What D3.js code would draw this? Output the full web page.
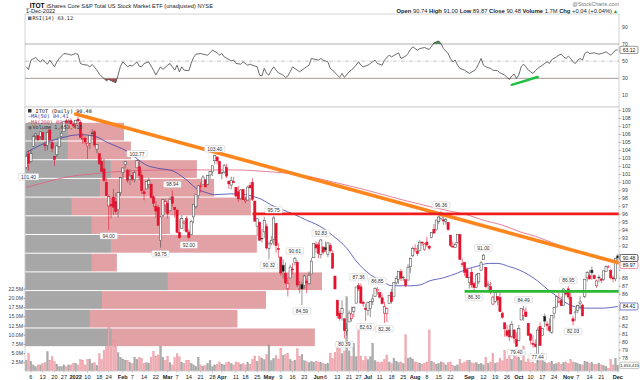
<!DOCTYPE html>
<html>
<head>
<meta charset="utf-8">
<script src="https://cdn.jsdelivr.net/npm/d3@7.9.0/dist/d3.min.js"></script>
<style>
  body { margin: 0; background: #fff; }
  svg { display: block; }
  text { font-family: "Liberation Sans", Arial, sans-serif; }
  .mono { font-family: "DejaVu Sans Mono", monospace; }
</style>
</head>
<body>
<div id="chart"></div>
<script>
// ---- data ----
const firstDay = "2021-12-02", lastDay = "2022-12-01";
const holidays = ["2021-12-24", "2022-01-17", "2022-02-21", "2022-04-15", "2022-05-30",
                  "2022-06-20", "2022-07-04", "2022-09-05", "2022-11-24"];

// daily open, high, low, close
const ohlc = [
  // Dec 2021
  [101.8,103.6,101.6,103.21],[103.5,103.9,101.40,102.33],[102.56,104.0,102.4,103.55],[104.45,105.85,104.45,105.67],
  [105.76,106.1,105.31,106.01],[105.78,105.87,105.2,105.26],[105.69,106.28,105.31,106.26],[106.21,106.21,105.24,105.29],
  [104.68,105.08,103.87,104.52],[104.56,106.26,103.98,106.19],[106.5,106.68,104.88,105.26],[104.9,105.22,103.73,104.18],
  [103.2,103.2,102.0,102.8],[103.4,104.6,103.1,104.5],[104.4,105.5,104.3,105.5],[105.7,106.4,105.6,106.1],
  [106.3,107.6,106.3,107.6],[107.65,107.9,107.3,107.45],[107.5,107.87,107.27,107.6],[107.65,107.94,107.2,107.27],
  [107.2,107.47,106.97,107.0],
  // Jan
  [107.27,107.69,106.82,107.69],[107.85,108.19,107.18,107.63],[107.47,107.72,105.52,105.54],[105.36,106.1,104.77,105.43],
  [105.47,105.67,104.68,105.0],[104.5,104.9,102.87,104.84],[104.84,105.83,104.12,105.81],[106.14,106.62,105.69,106.1],
  [106.28,106.5,104.41,104.62],[104.1,104.73,103.58,104.68],[103.53,103.53,102.09,102.3],[102.54,103.08,101.31,101.31],
  [101.63,102.88,100.0,100.2],[99.93,100.46,98.25,98.3],[96.99,98.35,94.00,98.17],[97.2,98.2,95.45,96.99],
  [98.12,99.12,95.83,96.83],[97.52,98.57,95.92,96.32],[96.52,98.66,95.54,98.66],[98.64,100.53,98.26,100.53],
  // Feb
  [101.14,101.83,100.35,101.74],[102.19,102.6,101.7,102.55],[101.49,101.65,99.9,100.22],[100.31,101.61,99.61,100.73],
  [100.82,101.18,100.06,100.35],[100.26,101.41,99.93,101.2],[101.76,102.77,101.76,102.66],[101.9,102.7,100.2,100.8],
  [100.84,101.31,98.52,98.9],[98.76,99.08,97.69,98.52],[99.12,100.1,99.12,100.08],[99.7,100.49,99.14,100.17],
  [99.73,99.73,97.87,98.05],[98.14,98.34,96.84,97.33],[96.95,97.64,95.52,96.35],[96.79,97.13,94.49,94.58],
  [92.66,95.78,91.76,95.62],[95.85,97.79,95.58,97.79],[97.12,97.87,96.22,97.54],
  // Mar
  [97.29,97.5,95.42,96.02],[96.38,98.14,96.38,97.83],[98.14,98.94,96.89,97.32],[96.83,96.85,95.53,96.54],
  [96.49,96.49,93.64,93.68],[93.7,95.35,92.9,93.01],[94.2,95.87,94.2,95.4],[94.84,95.18,93.86,95.0],
  [95.42,95.71,93.7,93.75],[93.73,94.06,92.85,93.06],[93.39,95.27,93.37,95.04],[95.62,97.18,94.8,97.18],
  [96.89,98.39,96.67,98.39],[98.28,99.57,97.9,99.52],[99.5,99.93,98.66,99.48],[99.66,100.84,99.66,100.62],
  [100.22,100.37,99.35,99.37],[99.68,100.82,99.57,100.8],[100.86,101.38,100.37,101.31],[101.26,102.02,100.73,102.02],
  [102.65,103.40,102.18,103.29],[103.12,103.18,102.18,102.62],[102.58,102.65,101.02,101.02],
  // Apr
  [101.06,101.26,100.33,101.19],[101.24,102.24,101.04,102.02],[101.79,102.26,100.48,100.73],[100.06,100.26,99.12,99.75],
  [99.61,100.66,99.06,100.17],[100.04,100.64,99.88,99.9],[99.32,99.37,98.12,98.23],[98.77,99.52,97.52,97.88],
  [97.9,99.12,97.79,98.99],[99.03,99.12,97.77,97.77],[97.61,98.19,97.32,97.74],[97.72,99.52,97.72,99.35],
  [99.57,99.93,99.17,99.26],[99.93,100.46,97.61,97.81],[97.61,97.61,95.0,95.09],[94.46,95.44,93.24,95.39],
  [94.97,94.97,92.69,92.69],[92.95,94.13,92.42,92.88],[93.75,95.64,92.97,95.19],[94.42,94.79,91.55,91.73],
  // May
  [91.69,92.55,90.32,92.24],[92.33,93.24,92.06,92.69],[92.82,95.75,92.09,95.48],[94.82,94.82,91.15,92.06],
  [91.66,92.31,90.51,91.53],[90.6,90.6,88.25,88.6],[89.58,90.31,87.87,88.82],[88.58,89.91,87.2,87.36],
  [86.65,88.0,85.65,87.25],[87.98,89.64,87.98,89.33],[89.09,89.84,88.42,88.98],[89.95,90.61,89.53,90.45],
  [89.93,90.2,86.82,87.09],[86.58,87.6,86.07,86.6],[87.18,87.53,84.59,86.6],[87.02,88.4,86.65,88.22],
  [87.51,87.82,86.03,87.49],[87.25,88.8,87.18,88.33],[88.47,90.47,88.47,90.09],[90.51,92.31,90.51,92.31],
  [92.15,92.53,91.11,91.73],
  // Jun
  [92.13,92.49,90.44,91.04],[90.93,92.83,90.44,92.73],[91.84,91.97,90.95,91.22],[91.77,92.55,91.24,91.49],
  [90.95,92.44,90.58,92.37],[92.06,92.35,91.18,91.38],[91.06,91.44,89.18,89.2],[88.22,88.22,86.58,86.6],
  [85.2,85.2,82.92,83.25],[83.56,83.87,82.63,82.92],[83.56,85.18,82.65,84.14],[82.87,82.87,80.39,81.41],
  [81.36,82.32,80.74,81.59],[82.47,83.92,82.47,83.58],[82.87,84.38,82.52,83.47],[83.78,84.43,83.09,84.27],
  [84.83,86.87,84.83,86.85],[87.02,87.36,86.34,86.6],[86.87,87.3,84.8,84.83],[84.92,85.16,84.36,84.78],
  [84.2,84.76,82.63,84.03],
  // Jul
  [83.94,85.0,83.29,84.92],[84.18,85.07,83.09,85.05],[85.05,85.91,84.58,85.36],[85.65,86.8,85.65,86.65],
  [86.34,86.85,85.89,86.56],[86.14,86.14,85.4,85.58],[85.49,86.0,84.67,84.78],[83.58,85.0,82.36,84.38],
  [83.54,84.27,82.45,84.14],[84.76,85.76,84.76,85.76],[86.2,86.62,84.76,85.05],[85.69,87.45,85.69,87.4],
  [87.36,88.25,87.14,87.91],[87.8,88.78,87.2,88.78],[88.78,89.09,87.58,87.96],[88.05,88.25,87.58,88.07],
  [87.76,87.76,86.82,87.05],[87.71,89.69,87.71,89.33],[89.38,90.53,88.62,90.42],[90.75,91.91,90.58,91.69],
  // Aug
  [91.49,92.2,91.16,91.65],[91.34,92.12,90.76,91.02],[91.4,92.72,91.38,92.45],[92.45,92.58,92.0,92.38],
  [91.56,92.36,91.38,92.23],[92.47,93.14,91.85,92.12],[91.96,92.07,91.49,91.71],[93.03,93.69,92.94,93.67],
  [94.07,94.72,93.47,93.61],[94.03,95.23,93.9,95.23],[95.01,95.7,94.7,95.61],[95.45,96.36,95.16,95.79],
  [95.25,95.74,94.63,95.12],[95.07,95.5,94.65,95.32],[94.94,94.94,93.85,94.07],[93.34,93.34,91.87,92.07],
  [91.96,92.54,91.76,91.85],[91.8,92.49,91.71,92.14],[92.43,93.45,92.29,93.43],[93.43,93.52,90.27,90.29],
  [89.76,90.38,89.38,89.69],[89.91,89.98,88.22,88.69],[89.0,89.33,87.98,88.0],
  // Sep
  [87.4,88.13,86.65,88.07],[88.69,89.22,86.74,87.11],[87.27,87.51,86.30,86.76],[86.78,88.51,86.71,88.36],
  [87.49,88.62,87.18,88.53],[88.89,90.08,88.89,89.88],[90.26,91.0,90.26,90.83],[89.3,89.3,86.65,86.9],
  [87.07,87.54,86.45,87.21],[86.9,87.49,85.95,86.21],[84.71,85.75,84.56,85.59],[85.06,86.19,84.84,86.19],
  [85.66,85.66,84.58,85.22],[85.55,86.34,83.74,83.76],[83.58,83.76,82.88,83.05],[82.37,82.37,80.62,81.62],
  [81.37,82.12,80.55,80.78],[81.46,82.15,80.07,80.6],[80.69,82.57,80.44,82.19],[81.48,81.48,79.78,80.44],
  [80.29,81.15,79.40,79.43],
  // Oct
  [80.14,82.1,80.01,81.65],[82.72,84.16,82.72,84.16],[83.32,84.49,82.63,83.98],[83.72,84.29,83.12,83.14],
  [82.3,82.36,80.72,80.81],[80.96,81.1,79.65,80.19],[79.81,80.83,79.23,79.68],[79.7,80.28,79.28,79.41],
  [78.14,81.81,77.44,81.45],[81.92,82.41,79.5,79.54],[80.76,81.63,80.76,81.63],[83.16,83.52,81.83,82.58],
  [82.21,82.56,81.39,82.03],[81.9,82.94,81.19,81.39],[81.19,83.32,80.96,83.29],[83.52,84.36,82.87,84.29],
  [84.34,85.74,84.34,85.67],[84.92,86.27,84.92,85.05],[85.18,85.67,84.43,84.52],[84.56,86.69,84.56,86.6],
  [86.18,86.42,85.76,85.96],
  // Nov
  [86.62,86.95,85.31,85.6],[85.54,86.47,83.45,83.47],[82.87,83.25,82.03,82.58],[83.63,84.27,82.61,83.72],
  [83.92,84.65,83.56,84.52],[84.76,85.69,84.05,84.98],[84.58,84.76,83.23,83.23],[85.67,87.89,85.45,87.82],
  [88.0,88.84,87.56,88.64],[88.29,89.0,87.82,87.85],[88.96,89.42,87.76,88.62],[88.27,88.42,87.8,87.89],
  [87.0,87.78,86.74,87.62],[88.07,88.36,87.4,88.02],[87.85,87.96,87.33,87.69],[87.76,88.89,87.62,88.87],
  [88.8,89.55,88.76,89.4],[89.31,89.58,89.24,89.38],[88.91,89.09,87.8,88.0],[88.0,88.29,87.42,87.87],
  [87.87,90.5,87.56,90.44],
  // Dec 1
  [90.74,91.00,89.87,90.48]
];

// daily volume, millions
const volume = [
  3.1,4.9,2.7,1.8,1.3,1.8,1.8,2.2,2.4,5.4,3.1,4.0,2.7,2.0,1.3,1.3,1.8,1.3,1.8,1.8,2.2,
  2.2,1.8,3.3,3.0,1.8,3.3,3.3,2.2,2.4,1.6,4.8,3.3,5.8,6.7,12.6,6.7,8.4,6.7,5.1,3.9,
  3.4,3.1,3.1,2.4,2.2,3.9,3.3,3.8,3.6,2.2,2.4,2.2,3.9,5.5,4.2,4.5,6.9,3.9,3.1,
  4.1,2.4,1.8,3.8,4.8,4.0,2.4,2.2,3.1,2.9,2.2,1.8,1.3,3.9,1.8,1.5,1.6,2.2,3.1,1.3,1.8,2.0,2.6,
  2.0,1.8,2.4,2.6,2.2,1.8,2.6,2.4,2.0,2.2,1.8,2.4,2.0,3.3,4.2,2.8,4.0,3.6,3.2,4.6,
  7.2,3.0,3.6,4.3,3.4,6.3,4.4,4.6,4.9,3.3,2.8,3.1,6.2,4.1,4.6,2.9,2.7,2.4,2.7,2.5,2.8,
  2.6,2.4,2.2,2.0,2.2,5.0,3.6,5.2,8.2,6.3,4.8,5.6,20.3,5.6,4.1,7.7,4.0,11.5,4.1,3.0,4.0,
  3.2,4.0,7.7,3.0,2.6,2.4,2.6,3.3,4.5,2.6,2.2,3.6,2.8,2.4,2.6,2.2,10.0,3.6,3.8,3.4,
  2.6,2.4,2.2,2.0,2.3,2.6,11.3,2.8,2.4,2.0,2.2,2.6,2.4,1.8,2.4,2.6,1.6,1.5,1.8,3.3,2.2,2.6,3.0,
  3.1,2.4,2.2,2.4,2.0,2.2,1.8,3.8,2.2,2.6,4.9,2.2,2.4,3.6,2.9,5.8,3.4,4.6,3.3,5.1,4.0,
  3.8,3.0,6.9,2.6,3.4,2.4,2.6,2.2,4.6,4.0,4.9,2.6,2.2,2.4,2.8,2.0,2.2,2.4,2.0,2.4,2.6,
  2.2,3.3,2.6,2.4,2.2,2.0,1.8,2.8,2.6,2.2,2.4,1.9,2.0,2.2,1.8,1.6,1.4,0.9,3.3,1.8,3.6,
  1.653415
];

// moving averages read as [trading day index, value]
const ma50 = [[0,103.7],[2,104.0],[6,104.6],[10,105.1],[15,105.5],[19,105.8],[23,105.9],[28,105.8],[31,105.5],
  [34,105.0],[38,104.5],[43,103.8],[47,102.9],[51,102.1],[56,101.7],[62,101.4],[66,100.7],[69,100.0],[72,99.2],
  [76,98.7],[80,98.4],[86,98.5],[90,98.5],[96,98.2],[100,97.8],[104,97.1],[108,96.6],[114,95.9],[119,95.2],
  [123,94.7],[126,94.2],[130,93.3],[136,91.7],[140,90.1],[146,88.4],[151,87.6],[155,87.0],[159,87.0],[163,87.0],
  [167,87.1],[171,87.6],[177,88.0],[183,88.6],[187,89.1],[192,89.5],[196,89.8],[200,89.8],[205,89.4],[209,89.0],
  [213,88.4],[217,87.6],[221,86.6],[226,85.5],[230,84.7],[234,84.3],[238,84.2],[244,84.2],[251,84.41]];
const ma200 = [[0,99.3],[10,100.1],[17,100.6],[28,101.0],[45,101.4],[62,101.5],[74,101.5],[88,101.5],[102,101.3],
  [116,100.9],[130,100.0],[144,99.0],[159,97.8],[170,97.0],[179,96.4],[187,95.9],[194,95.2],[202,94.6],[210,93.7],
  [216,93.2],[224,92.3],[230,91.7],[238,90.9],[244,90.3],[251,89.97]];

// RSI(14) read as [trading day index, value]
const rsi = [[0,43.4],[1,40.3],[2,51.2],[4,54.3],[5,51.2],[6,49.2],[7,51.9],[9,46.5],[10,51.2],[11,47.3],[12,43.4],
  [13,49.2],[14,53.1],[16,58.9],[18,58.1],[19,57.0],[21,58.9],[22,57.8],[23,47.3],[24,46.1],[26,45.3],[27,43.4],
  [28,46.1],[30,39.5],[31,34.9],[33,29.8],[34,27.1],[35,28.7],[37,26.0],[38,24.8],[39,34.0],[40,44.0],[41,49.2],
  [43,43.4],[44,45.3],[45,44.2],[47,49.2],[48,44.0],[49,43.4],[50,47.3],[52,49.2],[53,44.2],[54,39.5],[55,33.7],
  [56,38.8],[57,43.4],[58,40.3],[60,45.3],[61,47.3],[62,43.4],[63,39.5],[64,45.3],[65,37.6],[66,43.4],[67,39.5],
  [69,38.8],[70,47.3],[71,54.3],[72,58.1],[74,58.9],[75,58.1],[77,57.0],[78,59.7],[79,62.8],[81,59.7],[82,57.0],
  [83,58.9],[84,55.0],[86,51.9],[87,50.4],[88,51.2],[89,47.3],[91,46.5],[92,49.2],[94,45.3],[95,46.5],[96,45.3],
  [98,43.4],[99,33.7],[100,32.6],[101,41.5],[102,35.7],[103,33.7],[104,39.5],[105,43.4],[106,39.5],[107,36.4],
  [109,33.7],[110,31.0],[111,32.6],[112,37.6],[113,43.4],[115,39.5],[116,37.6],[117,39.5],[118,41.5],[120,45.3],
  [121,53.1],[123,51.9],[124,51.2],[125,53.1],[126,51.2],[128,49.2],[129,41.5],[130,39.5],[132,33.7],[133,31.0],
  [134,35.7],[135,31.0],[137,37.6],[138,39.5],[140,45.3],[141,49.2],[142,45.3],[143,43.4],[145,45.3],[146,47.3],
  [147,49.2],[148,51.2],[149,47.3],[151,45.3],[152,51.2],[154,57.0],[155,55.0],[157,58.1],[158,59.7],[159,53.1],
  [161,55.8],[162,58.9],[163,63.6],[164,66.7],[166,62.8],[167,64.7],[169,65.9],[170,64.7],[171,63.6],[172,67.4],
  [173,71.3],[174,72.5],[175,73.6],[176,70.5],[177,64.7],[179,58.9],[180,53.1],[181,49.2],[182,51.2],[183,45.3],
  [184,41.5],[186,39.5],[187,37.6],[188,35.7],[190,38.8],[191,41.5],[192,47.3],[193,53.1],[194,45.3],[195,43.4],
  [197,41.5],[198,39.5],[200,38.8],[201,36.4],[203,33.7],[204,31.0],[205,28.7],[206,32.6],[207,34.9],[208,29.8],
  [209,33.7],[210,43.4],[211,46.5],[212,43.4],[213,39.5],[214,37.6],[215,35.7],[216,38.8],[217,41.5],[218,43.4],
  [220,47.3],[221,49.2],[222,47.3],[223,51.9],[225,55.0],[226,57.0],[227,58.1],[228,55.0],[229,53.1],[230,55.8],
  [231,53.1],[232,49.2],[233,47.3],[234,51.2],[235,53.1],[236,51.2],[237,58.9],[238,60.9],[239,58.9],[241,59.7],
  [242,58.9],[243,58.1],[244,58.9],[245,59.7],[246,60.9],[247,58.9],[248,57.0],[249,59.7],[250,62.8],[251,63.12]];

// volume by price: zone edges (price) and up/down volume per zone (M)
const vbpEdges = [107.46, 105.12, 102.78, 100.44, 98.10, 95.76, 93.42, 91.08, 88.74, 86.40, 84.06, 81.72, 79.38];
const vbpUp   = [21.7, 21.7, 43.4, 37.9, 23.7, 33.8, 43.4, 33.8, 72.2, 38.9, 32.8, 43.9];
const vbpDown = [28.3, 31.8, 43.4, 57.6, 90.4, 39.4, 73.7, 12.6, 77.8, 82.8, 74.5, 102.5];

// hand-drawn lines
const trendLine = [["2022-01-03", 108.5], ["2022-12-01", 89.9]];
const resistance = ["2022-04-21", 96.0];
const support = ["2022-08-30", 86.3];
const rsiTrend = [["2022-09-28", 22.3], ["2022-10-13", 31.5]];

// price labels on swing highs/lows: [day index, text, side]
const swings = [[1,"101.40","low"],[35,"94.00","low"],[47,"102.77","high"],[57,"93.75","low"],[62,"98.94","high"],
  [69,"92.00","low"],[80,"103.40","high"],[103,"90.32","low"],[105,"95.75","high"],[114,"90.61","high"],
  [117,"84.59","low"],[125,"92.83","high"],[135,"80.39","low"],[141,"87.36","high"],[144,"82.63","low"],
  [149,"86.85","high"],[152,"82.36","low"],[176,"96.36","high"],[190,"86.30","low"],[194,"91.00","high"],
  [208,"79.40","low"],[211,"84.49","high"],[217,"77.44","low"],[230,"86.95","high"],[232,"82.03","low"]];

const xTicks = [["2021-12-06","6"],["2021-12-13","13"],["2021-12-20","20"],["2021-12-27","27"],["2022-01-03","2022"],
  ["2022-01-10","10"],["2022-01-18","18"],["2022-01-24","24"],["2022-02-01","Feb"],["2022-02-07","7"],["2022-02-14","14"],
  ["2022-02-22","22"],["2022-03-01","Mar"],["2022-03-07","7"],["2022-03-14","14"],["2022-03-21","21"],["2022-03-28","28"],
  ["2022-04-01","Apr"],["2022-04-11","11"],["2022-04-18","18"],["2022-04-25","25"],["2022-05-02","May"],["2022-05-09","9"],
  ["2022-05-16","16"],["2022-05-23","23"],["2022-06-01","Jun"],["2022-06-06","6"],["2022-06-13","13"],["2022-06-21","21"],
  ["2022-06-27","27"],["2022-07-01","Jul"],["2022-07-11","11"],["2022-07-18","18"],["2022-07-25","25"],["2022-08-01","Aug"],
  ["2022-08-08","8"],["2022-08-15","15"],["2022-08-22","22"],["2022-09-01","Sep"],["2022-09-12","12"],["2022-09-19","19"],
  ["2022-09-26","26"],["2022-10-03","Oct"],["2022-10-10","10"],["2022-10-17","17"],["2022-10-24","24"],["2022-11-01","Nov"],
  ["2022-11-07","7"],["2022-11-14","14"],["2022-11-21","21"],["2022-12-01","Dec"]];

const quote = [["Open ","90.74"],["High ","91.00"],["Low ","89.87"],["Close ","90.48"],["Volume ","1.7M"],["Chg ","+0.04 (+0.04%)"]];

// ---- layout ----
const plotL = 25, plotR = 619;
const rsiTop = 14, rsiBot = 107, mainTop = 107, mainBot = 371;
const red = "#e3122e";

// trading days
const days = [];
for (let d = new Date(firstDay + "T12:00:00Z"); d <= new Date(lastDay + "T12:00:00Z"); d.setUTCDate(d.getUTCDate() + 1)) {
  const s = d.toISOString().slice(0, 10);
  const wd = d.getUTCDay();
  if (wd > 0 && wd < 6 && !holidays.includes(s)) days.push(s);
}
const n = Math.min(days.length, ohlc.length);
const dayIdx = s => days.indexOf(s);

const x = d3.scaleLinear().domain([0, 251]).range([26.2, 617.8]);
const y = d3.scaleLinear().domain([78, 109]).range([357.7, 110]);
const v = d3.scaleLinear().domain([0, 25]).range([371.5, 279.5]);
const r = d3.scaleLinear().domain([0, 100]).range([104, 18.3]);
const vb = d3.scaleLinear().domain([0, 300]).range([plotL, plotR]);

const svg = d3.select("#chart").append("svg").attr("width", 640).attr("height", 380);
svg.append("rect").attr("width", 640).attr("height", 380).attr("fill", "#fff");

const defs = svg.append("defs");
defs.append("clipPath").attr("id", "mainClip").append("rect")
  .attr("x", plotL).attr("y", mainTop).attr("width", plotR - plotL).attr("height", mainBot - mainTop);
defs.append("clipPath").attr("id", "rsiHi").append("rect")
  .attr("x", plotL).attr("y", rsiTop).attr("width", plotR - plotL).attr("height", r(70) - rsiTop);
defs.append("clipPath").attr("id", "rsiLo").append("rect")
  .attr("x", plotL).attr("y", r(30)).attr("width", plotR - plotL).attr("height", rsiBot - r(30));

// ---- header ----
const sym = svg.append("text").attr("x", 26).attr("y", 7.6).attr("font-size", 6.6).attr("font-weight", "bold").text("_ITOT");
const symW = sym.node().getComputedTextLength();
svg.append("text").attr("x", 26 + symW + 2).attr("y", 7.6).attr("font-size", 5.7).attr("fill", "#222")
  .text("iShares Core S&P Total US Stock Market ETF (unadjusted) NYSE");
svg.append("text").attr("x", 26).attr("y", 13.4).attr("font-size", 5.6).attr("fill", "#222").text("1-Dec-2022");
svg.append("text").attr("x", 619).attr("y", 5.6).attr("text-anchor", "end").attr("font-size", 5.4).attr("fill", "#777")
  .text("@StockCharts.com");
const qt = svg.append("text").attr("x", 612).attr("y", 12.8).attr("text-anchor", "end").attr("font-size", 5.8).attr("fill", "#222");
quote.forEach(([k, val]) => {
  qt.append("tspan").attr("font-weight", "bold").text(k);
  qt.append("tspan").text(val + " ");
});
svg.append("text").attr("x", 613).attr("y", 12.8).attr("font-size", 5).attr("fill", "#1a9a1a").text("▲");

// ---- RSI panel ----
const rsiG = svg.append("g");
rsiG.append("rect").attr("x", plotL).attr("y", rsiTop).attr("width", plotR - plotL).attr("height", rsiBot - rsiTop)
  .attr("fill", "#fff").attr("stroke", "#c8c8c8").attr("stroke-width", 0.8);
[70, 30].forEach(lv => rsiG.append("line").attr("x1", plotL).attr("x2", plotR).attr("y1", r(lv)).attr("y2", r(lv))
  .attr("stroke", "#9a9a9a").attr("stroke-width", 0.8));
rsiG.append("line").attr("x1", plotL).attr("x2", plotR).attr("y1", r(50)).attr("y2", r(50))
  .attr("stroke", "#aaa").attr("stroke-width", 0.7).attr("stroke-dasharray", "4,1.5,1,1.5");

rsiG.append("path").datum(rsi).attr("clip-path", "url(#rsiHi)").attr("fill", "#4f8a55")
  .attr("d", d3.area().x(d => x(d[0])).y0(r(70)).y1(d => r(d[1])));
rsiG.append("path").datum(rsi).attr("clip-path", "url(#rsiLo)").attr("fill", "#a4504f")
  .attr("d", d3.area().x(d => x(d[0])).y0(r(30)).y1(d => r(d[1])));
rsiG.append("path").datum(rsi).attr("fill", "none").attr("stroke", "#3c3c3c").attr("stroke-width", 0.75)
  .attr("d", d3.line().x(d => x(d[0])).y(d => r(d[1])));
rsiG.append("line")
  .attr("x1", x(dayIdx(rsiTrend[0][0]))).attr("y1", r(rsiTrend[0][1]))
  .attr("x2", x(dayIdx(rsiTrend[1][0]))).attr("y2", r(rsiTrend[1][1]))
  .attr("stroke", "#20c040").attr("stroke-width", 2.4).attr("stroke-linecap", "round");

[90, 70, 50, 30, 10].forEach(lv => rsiG.append("text").attr("x", 622).attr("y", r(lv) + 1.8)
  .attr("font-size", 5.2).attr("fill", "#444").text(lv));
const lastRsi = rsi[rsi.length - 1][1];
rsiG.append("rect").attr("x", 620).attr("y", r(lastRsi) - 3.6).attr("width", 18).attr("height", 7.2)
  .attr("fill", "#fff").attr("stroke", "#555").attr("stroke-width", 0.6).attr("rx", 1);
rsiG.append("text").attr("x", 629).attr("y", r(lastRsi) + 1.8).attr("text-anchor", "middle")
  .attr("font-size", 5).attr("fill", "#111").text(lastRsi.toFixed(2));
rsiG.append("rect").attr("x", 28).attr("y", 16.5).attr("width", 3.5).attr("height", 3.5).attr("fill", "#5a6a8a");
rsiG.append("text").attr("class", "mono").attr("x", 32.5).attr("y", 20.3).attr("font-size", 5.2).attr("fill", "#222")
  .text("RSI(14) " + lastRsi.toFixed(2));

// ---- main panel ----
const main = svg.append("g");
main.append("rect").attr("x", plotL).attr("y", mainTop).attr("width", plotR - plotL).attr("height", mainBot - mainTop)
  .attr("fill", "#fff");
const body = main.append("g").attr("clip-path", "url(#mainClip)");

// volume by price
const zones = vbpUp.map((u, k) => ({ top: vbpEdges[k], bot: vbpEdges[k + 1], up: u, down: vbpDown[k] }));
body.selectAll(".vbpUp").data(zones).join("rect").attr("class", "vbpUp")
  .attr("x", vb(0)).attr("y", d => y(d.top) + 0.5)
  .attr("width", d => vb(d.up) - vb(0)).attr("height", d => y(d.bot) - y(d.top) - 1)
  .attr("fill", "#a7a7a7");
body.selectAll(".vbpDn").data(zones).join("rect").attr("class", "vbpDn")
  .attr("x", d => vb(d.up)).attr("y", d => y(d.top) + 0.5)
  .attr("width", d => vb(d.up + d.down) - vb(d.up)).attr("height", d => y(d.bot) - y(d.top) - 1)
  .attr("fill", "#e2a2a5");

// candles with colour flags
const candles = d3.range(n).map(i => {
  const [o, h, l, c] = ohlc[i];
  const prev = i > 0 ? ohlc[i - 1][3] : o;
  return { i, o, h, l, c, vol: volume[i], up: c >= prev, hollow: c > o };
});

// volume bars
body.selectAll(".vol").data(candles).join("rect").attr("class", "vol")
  .attr("x", d => x(d.i) - 0.9).attr("width", 1.8)
  .attr("y", d => v(d.vol)).attr("height", d => v(0) - v(d.vol))
  .attr("fill", d => d.up ? "#a3a3a3" : "#f0a4ac")
  .attr("stroke", d => d.up ? "#8a8a8a" : "#e0808c").attr("stroke-width", 0.3)
  .attr("opacity", 0.9);

// moving averages
body.append("path").datum(ma200).attr("fill", "none").attr("stroke", "#e0607e").attr("stroke-width", 0.8)
  .attr("d", d3.line().curve(d3.curveMonotoneX).x(d => x(d[0])).y(d => y(d[1])));
body.append("path").datum(ma50).attr("fill", "none").attr("stroke", "#3f43b0").attr("stroke-width", 0.8)
  .attr("d", d3.line().curve(d3.curveMonotoneX).x(d => x(d[0])).y(d => y(d[1])));

// candlesticks
const cg = body.selectAll(".candle").data(candles).join("g").attr("class", "candle");
cg.append("line")
  .attr("x1", d => x(d.i)).attr("x2", d => x(d.i))
  .attr("y1", d => y(d.h)).attr("y2", d => y(d.l))
  .attr("stroke", d => d.up ? "#4a4a4a" : red).attr("stroke-width", 0.6);
cg.append("rect")
  .attr("x", d => x(d.i) - 1.1).attr("width", 2.2)
  .attr("y", d => y(Math.max(d.o, d.c)))
  .attr("height", d => Math.max(0.7, Math.abs(y(d.o) - y(d.c))))
  .attr("fill", d => d.hollow ? "#fff" : (d.up ? "#111" : red))
  .attr("stroke", d => d.up ? "#4a4a4a" : red).attr("stroke-width", 0.55);

// drawn lines
const tx1 = x(dayIdx(trendLine[0][0])), tx2 = x(dayIdx(trendLine[1][0]));
const trendY = d3.scaleLinear().domain([tx1, tx2]).range([y(trendLine[0][1]), y(trendLine[1][1])]);
body.append("line").attr("x1", tx1).attr("y1", trendY(tx1)).attr("x2", plotR + 1).attr("y2", trendY(plotR + 1))
  .attr("stroke", "#ff861c").attr("stroke-width", 3.6).attr("stroke-linecap", "round");
body.append("line").attr("x1", x(dayIdx(resistance[0]))).attr("x2", plotR)
  .attr("y1", y(resistance[1])).attr("y2", y(resistance[1]))
  .attr("stroke", "#ee1c1c").attr("stroke-width", 2.6);
body.append("line").attr("x1", x(dayIdx(support[0]))).attr("x2", plotR)
  .attr("y1", y(support[1])).attr("y2", y(support[1]))
  .attr("stroke", "#2db838").attr("stroke-width", 2.6);

// swing labels (not clipped, so the first one can hang over the left edge)
const sw = main.selectAll(".swing").data(swings).join("g").attr("class", "swing")
  .attr("transform", d => {
    const c = ohlc[d[0]];
    const cy = d[2] === "high" ? y(c[1]) - 6 : Math.min(y(c[2]) + 6, 357);
    return `translate(${x(d[0])},${cy})`;
  });
sw.append("rect").attr("x", d => -d[1].length * 1.45 - 1.5).attr("y", -3.2)
  .attr("width", d => d[1].length * 2.9 + 3).attr("height", 6.4)
  .attr("fill", "#fff").attr("stroke", "#c4c4c4").attr("stroke-width", 0.5).attr("rx", 1);
sw.append("text").attr("text-anchor", "middle").attr("y", 1.8).attr("font-size", 4.9).attr("fill", "#333")
  .text(d => d[1]);

// legend
const last = candles[n - 1];
const volText = d3.format(",")(Math.round(last.vol * 1e6));
const lg = main.append("g").attr("font-size", 5.2);
lg.append("rect").attr("x", 28).attr("y", 109).attr("width", 3.5).attr("height", 3.5).attr("fill", "#333");
lg.append("text").attr("class", "mono").attr("x", 32.5).attr("y", 112.6).attr("fill", "#111")
  .text("_ITOT (Daily) " + last.c.toFixed(2));
lg.append("text").attr("class", "mono").attr("x", 28).attr("y", 118.2).attr("fill", "#3f43b0")
  .text("\u2014MA(50) " + ma50[ma50.length - 1][1].toFixed(2));
lg.append("text").attr("class", "mono").attr("x", 28).attr("y", 123.8).attr("fill", "#d8345a")
  .text("\u2014MA(200) " + ma200[ma200.length - 1][1].toFixed(2));
lg.append("rect").attr("x", 28.5).attr("y", 126.2).attr("width", 3).attr("height", 3).attr("fill", "#666");
lg.append("text").attr("class", "mono").attr("x", 32.5).attr("y", 129.4).attr("fill", "#333")
  .text("Volume " + volText);

// panel border
main.append("rect").attr("x", plotL).attr("y", mainTop).attr("width", plotR - plotL).attr("height", mainBot - mainTop)
  .attr("fill", "none").attr("stroke", "#c8c8c8").attr("stroke-width", 0.8);

// value boxes on the right (they cover the axis numbers they sit on)
const lastMa50 = ma50[ma50.length - 1][1], lastMa200 = ma200[ma200.length - 1][1];
const boxes = [[lastMa200, y(lastMa200) + 3, "#e0607e"], [last.c, y(last.c), "#222"], [lastMa50, y(lastMa50), "#3f43b0"]];
const covered = t => boxes.some(b => Math.abs(y(t) - b[1]) < 5.5);

// right price axis
const py = svg.append("g").attr("transform", `translate(${plotR},0)`)
  .call(d3.axisRight(y).tickValues(d3.range(78, 110)).tickSize(1.5).tickFormat(d3.format("d")));
py.select(".domain").remove();
py.selectAll("text").attr("font-size", 5.2).attr("fill", "#444").attr("x", 3).attr("font-family", "Liberation Sans, Arial")
  .attr("display", d => covered(d) ? "none" : null);
py.selectAll("line").attr("stroke", "#999");

boxes.forEach(([val, cy, col]) => {
  svg.append("rect").attr("x", 620).attr("y", cy - 3.5).attr("width", 18).attr("height", 7)
    .attr("fill", "#fff").attr("stroke", col).attr("stroke-width", 0.7).attr("rx", 1.5);
  svg.append("text").attr("x", 629).attr("y", cy + 1.8).attr("text-anchor", "middle")
    .attr("font-size", 5).attr("fill", "#111").text(val.toFixed(2));
});
svg.append("rect").attr("x", 620).attr("y", v(last.vol) - 3.2).attr("width", 19).attr("height", 6.4)
  .attr("fill", "#fff").attr("stroke", "#888").attr("stroke-width", 0.5).attr("rx", 1);
svg.append("text").attr("x", 629.5).attr("y", v(last.vol) + 1.6).attr("text-anchor", "middle")
  .attr("font-size", 4.2).attr("fill", "#222").text(volText);

// left volume axis
const vy = svg.append("g").attr("transform", `translate(${plotL},0)`)
  .call(d3.axisLeft(v).tickValues(d3.range(2.5, 23, 2.5)).tickSize(1.5).tickFormat(d => d.toFixed(1) + "M"));
vy.select(".domain").remove();
vy.selectAll("text").attr("font-size", 5.2).attr("fill", "#444").attr("x", -2).attr("font-family", "Liberation Sans, Arial");
vy.selectAll("line").attr("stroke", "#999");

// date axis
svg.append("g").selectAll("text").data(xTicks).join("text")
  .attr("x", d => x(dayIdx(d[0]))).attr("y", 378.5).attr("text-anchor", "middle")
  .attr("font-size", 5.6).attr("fill", "#222")
  .attr("font-weight", d => isNaN(+d[1]) || d[1] === "2022" ? "bold" : "normal")
  .text(d => d[1]);
svg.append("g").selectAll("line").data(xTicks).join("line")
  .attr("x1", d => x(dayIdx(d[0]))).attr("x2", d => x(dayIdx(d[0])))
  .attr("y1", mainBot).attr("y2", mainBot + 1.5).attr("stroke", "#999").attr("stroke-width", 0.5);
</script>
</body>
</html>
